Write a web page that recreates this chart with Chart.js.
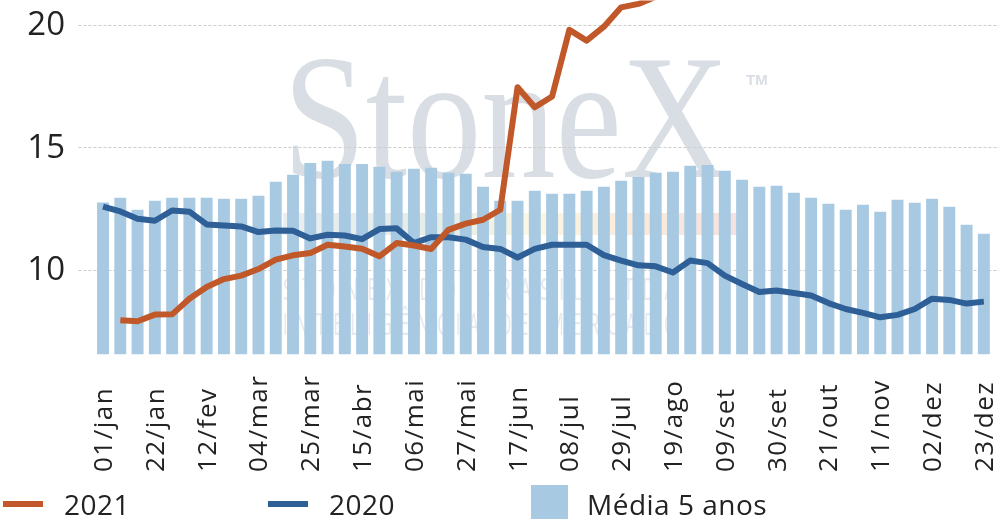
<!DOCTYPE html>
<html lang="pt-BR">
<head>
<meta charset="utf-8">
<title>Média 5 anos, 2020 e 2021</title>
<script src="https://cdn.jsdelivr.net/npm/chart.js@4/dist/chart.umd.min.js"></script>
<style>
  html, body { margin:0; padding:0; background:#fff; }
  #quadro { position:relative; width:999px; height:519px; overflow:hidden; }
  #grafico { position:absolute; left:0; top:0; }
  #legenda { position:absolute; left:0; top:0; width:999px; height:519px; pointer-events:none;
             font-family:"Open Sans", sans-serif; font-size:28px; color:#222; letter-spacing:0.5px; }
  .marca { position:absolute; }
  .texto { position:absolute; line-height:28px; white-space:nowrap; }
</style>
</head>
<body>
<div id="quadro">
  <canvas id="grafico" width="999" height="519"></canvas>
  <div id="legenda"></div>
</div>
<script>
// semanas do ano (eixo x)
const semanas = [
  "01/jan","08/jan","15/jan","22/jan","29/jan","05/fev","12/fev","19/fev","26/fev",
  "04/mar","11/mar","18/mar","25/mar","01/abr","08/abr","15/abr","22/abr","29/abr",
  "06/mai","13/mai","20/mai","27/mai","03/jun","10/jun","17/jun","24/jun","01/jul",
  "08/jul","15/jul","22/jul","29/jul","05/ago","12/ago","19/ago","26/ago","02/set",
  "09/set","16/set","23/set","30/set","07/out","14/out","21/out","28/out","04/nov",
  "11/nov","18/nov","25/nov","02/dez","09/dez","16/dez","23/dez"
];

const media5anos = [
  12.76, 12.95, 12.46, 12.83, 12.95, 12.95, 12.95, 12.91, 12.91, 13.03,
  13.60, 13.89, 14.37, 14.46, 14.33, 14.33, 14.21, 14.01, 14.13, 14.17,
  13.97, 13.93, 13.40, 12.83, 12.83, 13.23, 13.11, 13.11, 13.23, 13.40,
  13.64, 13.80, 13.97, 14.01, 14.25, 14.29, 14.05, 13.68, 13.40, 13.44,
  13.15, 12.95, 12.70, 12.46, 12.66, 12.38, 12.87, 12.74, 12.91, 12.58,
  11.85, 11.48
];

const serie2020 = [
  12.59, 12.39, 12.09, 12.01, 12.43, 12.38, 11.86, 11.82, 11.78, 11.55,
  11.61, 11.60, 11.29, 11.44, 11.41, 11.26, 11.67, 11.70, 11.10, 11.34,
  11.34, 11.24, 10.94, 10.86, 10.51, 10.86, 11.03, 11.03, 11.03, 10.61,
  10.38, 10.19, 10.15, 9.90, 10.39, 10.28, 9.77, 9.43, 9.10, 9.16,
  9.06, 8.96, 8.65, 8.41, 8.25, 8.07, 8.17, 8.41, 8.83, 8.78,
  8.63, 8.71
];

const serie2021 = [
  null, 7.95, 7.91, 8.18, 8.19, 8.83, 9.31, 9.63, 9.77, 10.04,
  10.42, 10.60, 10.69, 11.03, 10.96, 10.87, 10.56, 11.10, 11.00, 10.86,
  11.64, 11.89, 12.05, 12.46, 17.46, 16.64, 17.08, 19.80, 19.36, 19.93,
  20.72, 20.86, 21.15
];

const ticksY = [10, 15, 20];
const limiteY = [6.56, 21];

const corBarra = "#a8c9e2";
const cor2020 = "#2f5f97";
const cor2021 = "#c0582a";

// marca d'água + linhas de grade tracejadas
const fundo = {
  id: "fundo",
  beforeDatasetsDraw(chart) {
    const ctx = chart.ctx;
    const area = chart.chartArea;
    ctx.save();

    // faixa colorida bem clara
    const g = ctx.createLinearGradient(283, 0, 737, 0);
    g.addColorStop(0, "#e9eef2");
    g.addColorStop(0.35, "#e5ede6");
    g.addColorStop(0.55, "#fbf7e3");
    g.addColorStop(0.75, "#fbecdc");
    g.addColorStop(1, "#f5e1e1");
    ctx.fillStyle = g;
    ctx.fillRect(283, 213, 454, 22);

    // StoneX
    ctx.fillStyle = "#d9dee5";
    ctx.font = "177px 'Liberation Serif', serif";
    ctx.textBaseline = "alphabetic";
    let w = ctx.measureText("StoneX").width;
    ctx.save();
    ctx.translate(283, 177);
    ctx.scale(446 / w, 1);
    ctx.fillText("StoneX", 0, 0);
    ctx.restore();
    ctx.font = "bold 15px 'Liberation Sans', sans-serif";
    ctx.fillText("TM", 746, 85);

    ctx.fillStyle = "#e6e9ed";
    [["STONEX DO BRASIL LTDA", 300], ["INTELIGÊNCIA DE MERCADO", 335]].forEach(([t, y]) => {
      ctx.font = "31px 'Open Sans', sans-serif";
      ctx.letterSpacing = "14px";
      const lw = ctx.measureText(t).width;
      ctx.save();
      ctx.translate(283, y);
      ctx.scale(402 / lw, 1);
      ctx.fillText(t, 0, 0);
      ctx.restore();
    });
    ctx.letterSpacing = "0px";

    // grade
    ctx.strokeStyle = "#cccccc";
    ctx.lineWidth = 1;
    ctx.setLineDash([3, 2]);
    ticksY.forEach(v => {
      const y = Math.round(chart.scales.y.getPixelForValue(v)) + 0.5;
      ctx.beginPath();
      ctx.moveTo(area.left - 16, y);
      ctx.lineTo(chart.width, y);
      ctx.stroke();
    });
    ctx.restore();
  }
};

// rótulos dos eixos
const rotulos = {
  id: "rotulos",
  afterDraw(chart) {
    const ctx = chart.ctx;
    const x = chart.scales.x;
    const y = chart.scales.y;
    ctx.save();
    ctx.fillStyle = "#222";

    ctx.font = "33px 'Open Sans', sans-serif";
    ctx.textAlign = "right";
    ctx.textBaseline = "middle";
    ticksY.forEach(v => ctx.fillText(String(v), 65, y.getPixelForValue(v) + 1));

    ctx.font = "26px 'Open Sans', sans-serif";
    ctx.letterSpacing = "1.5px";
    ctx.textAlign = "left";
    ctx.textBaseline = "alphabetic";
    semanas.forEach((s, i) => {
      if (i % 3 !== 0) return;
      const px = x.getPixelForValue(i);
      ctx.save();
      ctx.translate(px + 9, 472);
      ctx.rotate(-Math.PI / 2);
      ctx.fillText(s, 0, 0);
      ctx.restore();
    });
    ctx.restore();
  }
};

const grafico = new Chart(document.getElementById("grafico"), {
  type: "bar",
  data: {
    labels: semanas,
    datasets: [
      { type: "line", label: "2021", data: serie2021, borderColor: cor2021, backgroundColor: cor2021,
        borderWidth: 6, pointRadius: 0, tension: 0, borderJoinStyle: "round", order: 1 },
      { type: "line", label: "2020", data: serie2020, borderColor: cor2020, backgroundColor: cor2020,
        borderWidth: 6, pointRadius: 0, tension: 0, borderJoinStyle: "round", order: 2 },
      { type: "bar", label: "Média 5 anos", data: media5anos, backgroundColor: corBarra,
        barPercentage: 0.69, categoryPercentage: 1, order: 3 }
    ]
  },
  options: {
    responsive: false,
    animation: false,
    events: [],
    layout: { padding: { left: 94.4, right: 6.5, top: 0.47, bottom: 164.7 } },
    scales: {
      x: { display: false },
      y: { display: false, min: limiteY[0], max: limiteY[1] }
    },
    plugins: { legend: { display: false }, tooltip: { enabled: false } }
  },
  plugins: [fundo, rotulos]
});

// legenda em HTML
const legenda = document.getElementById("legenda");
const posLegenda = [3, 268, 531];
grafico.data.datasets.forEach((d, i) => {
  const m = document.createElement("div");
  m.className = "marca";
  m.style.left = posLegenda[i] + "px";
  m.style.background = d.type === "bar" ? d.backgroundColor : d.borderColor;
  if (d.type === "bar") {
    m.style.top = "485px"; m.style.width = "37px"; m.style.height = "40px";
  } else {
    m.style.top = "501px"; m.style.width = "40px"; m.style.height = "6px";
  }
  legenda.appendChild(m);
  const t = document.createElement("div");
  t.className = "texto";
  t.style.left = (posLegenda[i] + (d.type === "bar" ? 56 : 61)) + "px";
  t.style.top = "490px";
  t.textContent = d.label;
  legenda.appendChild(t);
});
</script>
</body>
</html>
